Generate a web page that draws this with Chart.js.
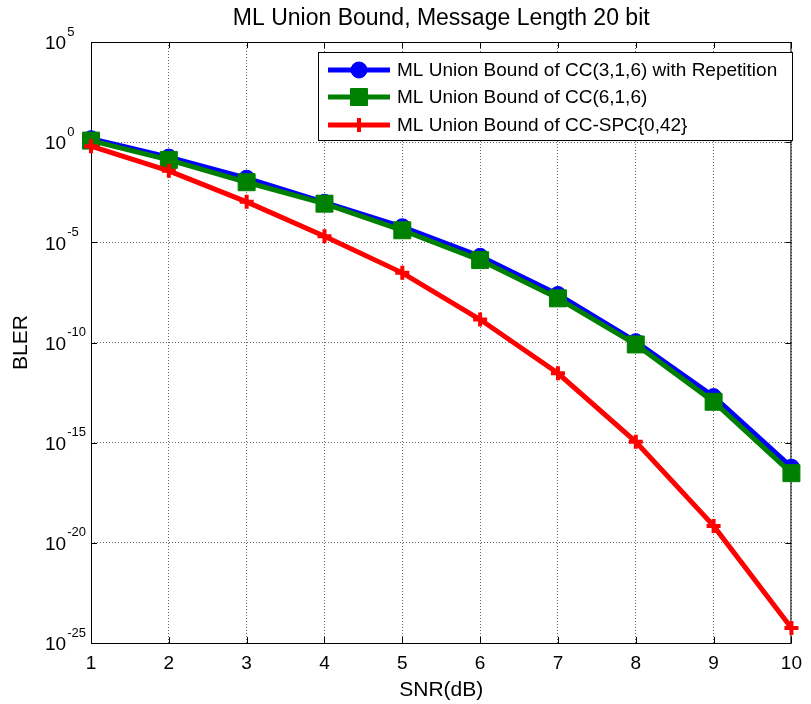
<!DOCTYPE html>
<html lang="en">
<head>
    <meta charset="UTF-8">
    <title>ML Union Bound</title>
    <script src="https://cdn.jsdelivr.net/npm/chart.js"></script>
    <style>
        body {
            margin: 0;
            background-color: white;
        }
        #chart-container {
            width: 811px;
            height: 704px;
        }
    </style>
</head>
<body>
    <div id="chart-container">
        <canvas id="blerChart"></canvas>
    </div>
    <script>
        // data
        const snr = [1, 2, 3, 4, 5, 6, 7, 8, 9, 10];
        const blerRep = [1.5, 0.18, 0.016, 1.0e-3, 6.0e-5, 2.0e-6, 2.5e-8, 1.1e-10, 2.0e-13, 6.0e-17];
        const blerCC6 = [1.2, 0.13, 0.010, 8.5e-4, 4.0e-5, 1.3e-6, 1.6e-8, 8.0e-11, 1.1e-13, 3.0e-17];
        const blerSpc = [0.63, 0.037, 1.05e-3, 2.0e-5, 3.0e-7, 1.4e-9, 2.9e-12, 1.1e-15, 7.0e-20, 5.6e-25];
        const yTickExps = [5, 0, -5, -10, -15, -20, -25];
        const xTicks = [1, 2, 3, 4, 5, 6, 7, 8, 9, 10];
        const seriesLabels = [
            'ML Union Bound of CC(3,1,6) with Repetition',
            'ML Union Bound of CC(6,1,6)',
            'ML Union Bound of CC-SPC{0,42}'
        ];
        const titleText = 'ML Union Bound, Message Length 20 bit';

        const FONT = 'Arial, "Liberation Sans", sans-serif';

        function toPoints(ys) {
            return snr.map((x, i) => ({ x: x, y: ys[i] }));
        }

        const datasets = [
            {
                label: seriesLabels[0],
                data: toPoints(blerRep),
                borderColor: '#0000ff',
                backgroundColor: '#0000ff',
                pointStyle: 'circle',
                pointRadius: 8,
                pointBorderWidth: 1,
                borderWidth: 5,
                order: 3
            },
            {
                label: seriesLabels[1],
                data: toPoints(blerCC6),
                borderColor: '#008000',
                backgroundColor: '#008000',
                pointStyle: 'rect',
                pointRadius: 12,
                pointBorderWidth: 1,
                borderWidth: 5,
                order: 2
            },
            {
                label: seriesLabels[2],
                data: toPoints(blerSpc),
                borderColor: '#ff0000',
                backgroundColor: '#ff0000',
                pointStyle: 'cross',
                pointRadius: 7,
                pointBorderWidth: 4,
                borderWidth: 5,
                order: 1
            }
        ];

        // matlab-like decorations: title, box, inner ticks, superscript labels, legend
        const matlabPlugin = {
            id: 'matlabLook',
            beforeDatasetsDraw(chart) {
                const ctx = chart.ctx;
                const a = chart.chartArea;
                const xs = chart.scales.x;
                const ys = chart.scales.y;
                ctx.save();
                ctx.strokeStyle = 'black';
                ctx.lineWidth = 1;
                ctx.strokeRect(a.left + 0.5, a.top + 0.5, a.right - a.left - 1, a.bottom - a.top);
                // inner tick marks
                ctx.beginPath();
                xTicks.forEach(v => {
                    const px = Math.round(xs.getPixelForValue(v)) + 0.5;
                    ctx.moveTo(px, a.bottom);
                    ctx.lineTo(px, a.bottom - 6);
                    ctx.moveTo(px, a.top);
                    ctx.lineTo(px, a.top + 6);
                });
                yTickExps.forEach(e => {
                    const py = Math.round(ys.getPixelForValue(Number('1e' + e))) + 0.5;
                    ctx.moveTo(a.left, py);
                    ctx.lineTo(a.left + 6, py);
                    ctx.moveTo(a.right, py);
                    ctx.lineTo(a.right - 6, py);
                });
                ctx.stroke();
                ctx.restore();
            },
            afterDraw(chart) {
                const ctx = chart.ctx;
                const a = chart.chartArea;
                const ys = chart.scales.y;
                ctx.save();
                ctx.fillStyle = 'black';

                // title
                ctx.font = '23px ' + FONT;
                ctx.textAlign = 'center';
                ctx.textBaseline = 'middle';
                ctx.fillText(titleText, (a.left + a.right) / 2, 19);

                // y tick labels 10^n
                yTickExps.forEach(e => {
                    const py = ys.getPixelForValue(Number('1e' + e));
                    ctx.textAlign = 'left';
                    ctx.font = '19px ' + FONT;
                    ctx.fillText('10', 45, py + 2);
                    const w = ctx.measureText('10').width;
                    ctx.font = '13px ' + FONT;
                    ctx.fillText(String(e), 45 + w + 1, py - 10);
                });

                // axis titles
                ctx.font = '21px ' + FONT;
                ctx.textAlign = 'center';
                ctx.fillText('SNR(dB)', (a.left + a.right) / 2, 690);
                ctx.save();
                ctx.translate(21, (a.top + a.bottom) / 2);
                ctx.rotate(-Math.PI / 2);
                ctx.fillText('BLER', 0, 0);
                ctx.restore();

                // legend box
                const lx = 318, ly = 52, lw = 474, lh = 88;
                ctx.fillStyle = 'white';
                ctx.fillRect(lx, ly, lw, lh);
                ctx.strokeStyle = 'black';
                ctx.lineWidth = 1;
                ctx.strokeRect(lx + 0.5, ly + 0.5, lw, lh);
                const rowY = [70, 97, 125];
                chart.data.datasets.forEach((ds, i) => {
                    const y = rowY[i];
                    ctx.strokeStyle = ds.borderColor;
                    ctx.lineWidth = ds.borderWidth;
                    ctx.beginPath();
                    ctx.moveTo(328, y);
                    ctx.lineTo(390, y);
                    ctx.stroke();
                    ctx.fillStyle = ds.backgroundColor;
                    ctx.lineWidth = ds.pointBorderWidth;
                    Chart.helpers.drawPoint(ctx, {
                        pointStyle: ds.pointStyle,
                        radius: ds.pointRadius,
                        rotation: 0,
                        borderWidth: ds.pointBorderWidth
                    }, 359, y);
                    ctx.fillStyle = 'black';
                    ctx.font = '19px ' + FONT;
                    ctx.textAlign = 'left';
                    ctx.fillText(ds.label, 397, y + 1);
                });
                ctx.restore();
            }
        };

        const config = {
            type: 'line',
            data: { datasets: datasets },
            options: {
                responsive: true,
                maintainAspectRatio: false,
                animation: false,
                layout: {
                    padding: { top: 42, right: 13, left: 0, bottom: 0 }
                },
                elements: {
                    line: { tension: 0 }
                },
                clip: false,
                scales: {
                    x: {
                        type: 'linear',
                        min: 1,
                        max: 10,
                        afterBuildTicks: scale => {
                            scale.ticks = xTicks.map(v => ({ value: v }));
                        },
                        afterFit: scale => { scale.height = 61; },
                        grid: {
                            color: 'rgba(0, 0, 0, 0.6)',
                            lineWidth: 1,
                            drawTicks: false
                        },
                        border: { display: false, dash: [1, 2] },
                        ticks: {
                            color: 'black',
                            padding: 9,
                            maxRotation: 0,
                            font: { family: FONT, size: 19 }
                        }
                    },
                    y: {
                        type: 'logarithmic',
                        min: 1e-25,
                        max: 1e5,
                        afterBuildTicks: scale => {
                            scale.ticks = yTickExps.map(e => ({ value: Number('1e' + e) }));
                        },
                        afterFit: scale => { scale.width = 91; },
                        grid: {
                            color: 'rgba(0, 0, 0, 0.6)',
                            lineWidth: 1,
                            drawTicks: false
                        },
                        border: { display: false, dash: [1, 2] },
                        ticks: { display: false }
                    }
                },
                plugins: {
                    legend: { display: false },
                    title: { display: false },
                    tooltip: { enabled: false }
                }
            },
            plugins: [matlabPlugin]
        };

        const ctx = document.getElementById('blerChart').getContext('2d');
        const chart = new Chart(ctx, config);
    </script>
</body>
</html>
